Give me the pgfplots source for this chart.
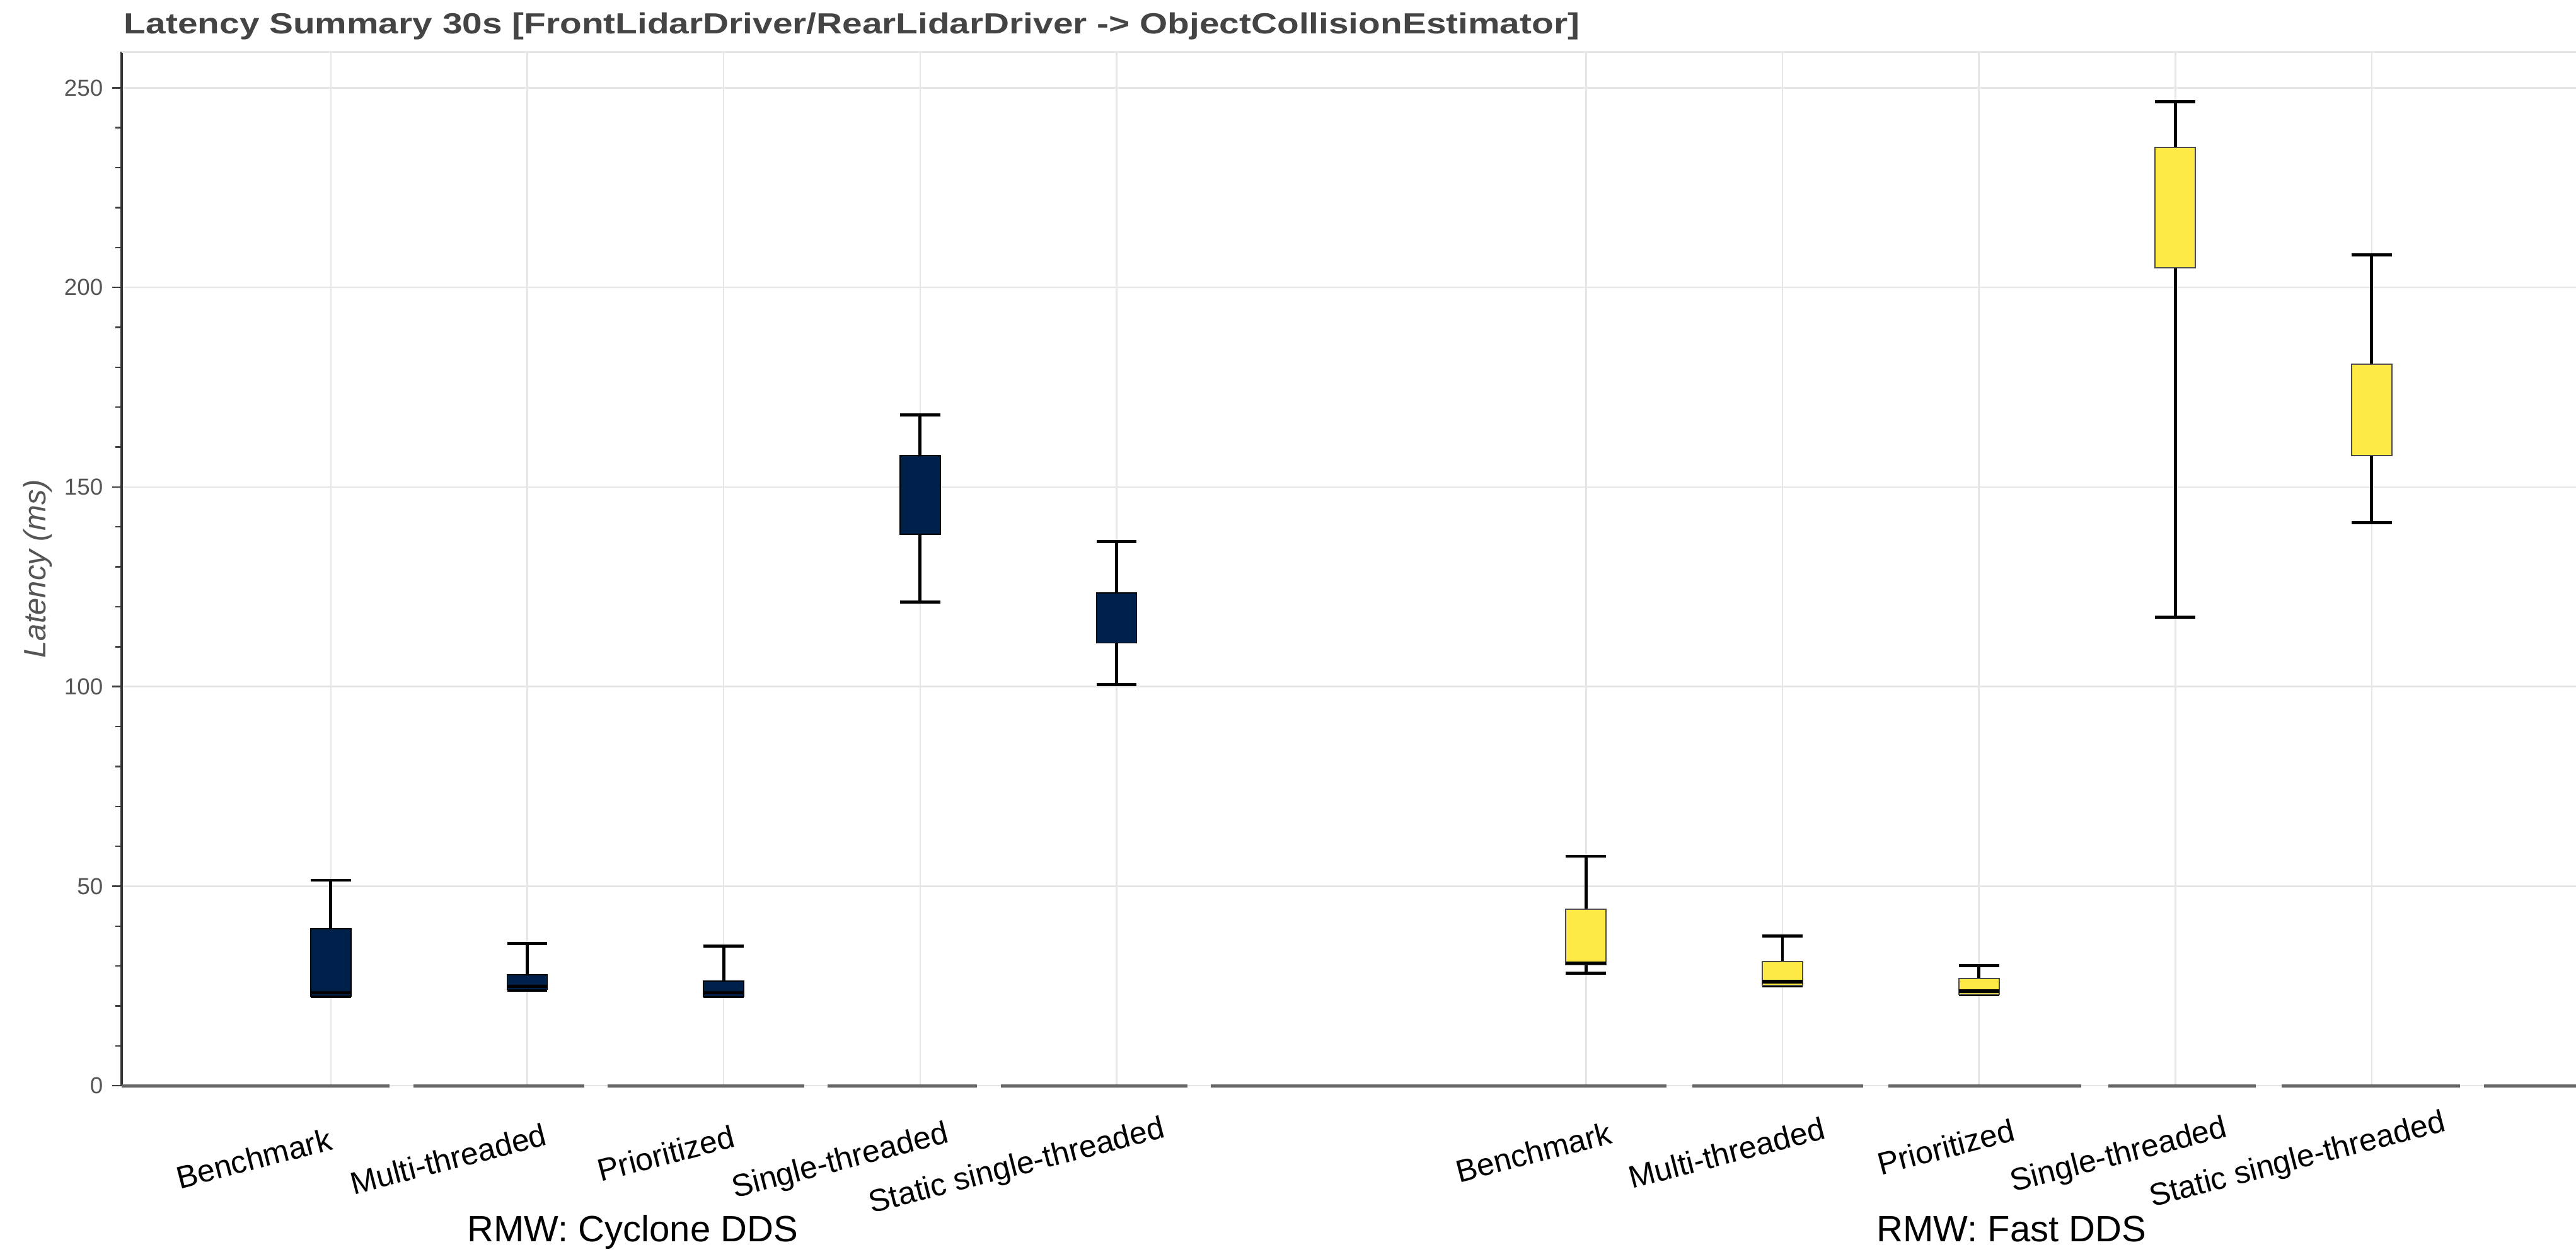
\documentclass[border=0pt]{standalone}
\usepackage{fontspec}
\setmainfont{Liberation Sans}
\newfontfamily\titlefont[FakeStretch=1.23]{Liberation Sans}
\usepackage{pgfplots}
\pgfplotsset{compat=1.18}
\usepgfplotslibrary{statistics}
\definecolor{navy}{HTML}{00204C}
\definecolor{cyel}{HTML}{FFE945}
\definecolor{gridc}{HTML}{E6E6E6}
\definecolor{tickc}{HTML}{555555}
\definecolor{titlec}{HTML}{444444}
\definecolor{axisc}{HTML}{666666}
\pgfkeys{
  /pgfplots/boxplot/cyc/.style={/pgfplots/boxplot/box extend=0.205, /pgfplots/boxplot/whisker extend=0.205,
    /pgfplots/boxplot/every box/.style={draw=black, line width=0.4pt, fill=navy},
    /pgfplots/boxplot/every whisker/.style={black, line width=1.2pt},
    /pgfplots/boxplot/every median/.style={black, line width=1.3pt}},
  /pgfplots/boxplot/fst/.style={/pgfplots/boxplot/box extend=0.205, /pgfplots/boxplot/whisker extend=0.205,
    /pgfplots/boxplot/every box/.style={draw=black!70, line width=0.5pt, fill=cyel},
    /pgfplots/boxplot/every whisker/.style={black, line width=1.2pt},
    /pgfplots/boxplot/every median/.style={black, line width=1.3pt}},
  /pgfplots/boxplot/nomed/.style={/pgfplots/boxplot/every median/.style={draw=none}},
}
\begin{document}
\begin{tikzpicture}
\useasboundingbox (0,0) rectangle (1000pt,486pt);
\node[anchor=base west, font=\titlefont\bfseries\fontsize{11.3}{13}\selectfont, text=titlec, inner sep=0pt] at (48pt,473pt) {Latency Summary 30s [FrontLidarDriver/RearLidarDriver -> ObjectCollisionEstimator]};
\begin{axis}[
  boxplot/draw direction=y,
  at={(47.2pt,64.35pt)}, anchor=south west,
  scale only axis, width=952.8pt, height=401.5pt,
  xmin=-1.065, xmax=11.43, ymin=0, ymax=259.0,
  axis x line=bottom, axis y line=left,
  x axis line style={draw=none},
  y axis line style={-, draw=black!80, line width=0.9pt},
  clip=false,
  ytick={0,50,100,150,200,250},
  minor y tick num=4,
  tick align=outside, major tick length=3.7pt, minor tick length=2.4pt,
  ytick style={black!75, line width=0.6pt},
  xtick={0,1,2,3,4,6.39,7.39,8.39,9.39,10.39},
  xticklabels={Benchmark\hspace*{4pt}, Multi-threaded\hspace*{-3.3pt}, Prioritized, Single-threaded\hspace*{-6.8pt}, Static single-threaded\hspace*{-14.9pt}, Benchmark\hspace*{-5.8pt}, Multi-threaded\hspace*{-12.6pt}, Prioritized\hspace*{-9.9pt}, Single-threaded\hspace*{-16.2pt}, Static single-threaded\hspace*{-25pt}},
  xtick style={draw=none},
  xmajorgrids, ymajorgrids,
  grid style={gridc, line width=0.6pt},
  y tick label style={font=\fontsize{9}{10}\selectfont, text=tickc},
  /pgf/number format/assume math mode=true,
  x tick label style={font=\fontsize{12.2}{14}\selectfont, rotate=14.5, anchor=north east, inner sep=0pt, yshift=-11.5pt},
  ylabel={\itshape Latency (ms)},
  ylabel style={font=\fontsize{12}{14}\selectfont, text=tickc, at={(axis description cs:-0.0343,0.5)}, anchor=center},
]
% Cyclone DDS
\addplot[boxplot prepared={draw position=0, lower whisker=22.3, lower quartile=22.5, median=23.3, upper quartile=39.3, upper whisker=51.5, cyc}] coordinates {};
\addplot[boxplot prepared={draw position=1, lower whisker=24.0, lower quartile=24.1, median=24.9, upper quartile=27.8, upper whisker=35.7, cyc}] coordinates {};
\addplot[boxplot prepared={draw position=2, lower whisker=22.3, lower quartile=22.4, median=23.3, upper quartile=26.2, upper whisker=35.0, cyc}] coordinates {};
\addplot[boxplot prepared={draw position=3, lower whisker=121.2, lower quartile=138.1, median=148.0, upper quartile=157.9, upper whisker=168.1, cyc, nomed}] coordinates {};
\addplot[boxplot prepared={draw position=4, lower whisker=100.5, lower quartile=110.9, median=117.0, upper quartile=123.5, upper whisker=136.4, cyc, nomed}] coordinates {};
% Fast DDS
\addplot[boxplot prepared={draw position=6.39, lower whisker=28.2, lower quartile=30.4, median=30.7, upper quartile=44.2, upper whisker=57.5, fst}] coordinates {};
\addplot[boxplot prepared={draw position=7.39, lower whisker=25.1, lower quartile=25.2, median=26.1, upper quartile=31.1, upper whisker=37.5, fst}] coordinates {};
\addplot[boxplot prepared={draw position=8.39, lower whisker=22.9, lower quartile=23.0, median=23.7, upper quartile=26.9, upper whisker=30.1, fst}] coordinates {};
\addplot[boxplot prepared={draw position=9.39, lower whisker=117.4, lower quartile=204.9, median=220.0, upper quartile=235.0, upper whisker=246.5, fst, nomed}] coordinates {};
\addplot[boxplot prepared={draw position=10.39, lower whisker=141.1, lower quartile=157.9, median=169.0, upper quartile=180.8, upper whisker=208.1, fst, nomed}] coordinates {};
% broken bottom axis line
\draw[axisc, line width=1.1pt] (axis cs:-1.065,0) -- (axis cs:0.30,0);
\draw[axisc, line width=1.1pt] (axis cs:0.42,0) -- (axis cs:1.29,0);
\draw[axisc, line width=1.1pt] (axis cs:1.41,0) -- (axis cs:2.41,0);
\draw[axisc, line width=1.1pt] (axis cs:2.53,0) -- (axis cs:3.29,0);
\draw[axisc, line width=1.1pt] (axis cs:3.41,0) -- (axis cs:4.36,0);
\draw[axisc, line width=1.1pt] (axis cs:4.48,0) -- (axis cs:6.80,0);
\draw[axisc, line width=1.1pt] (axis cs:6.93,0) -- (axis cs:7.80,0);
\draw[axisc, line width=1.1pt] (axis cs:7.93,0) -- (axis cs:8.91,0);
\draw[axisc, line width=1.1pt] (axis cs:9.05,0) -- (axis cs:9.80,0);
\draw[axisc, line width=1.1pt] (axis cs:9.93,0) -- (axis cs:10.84,0);
\draw[axisc, line width=1.1pt] (axis cs:10.96,0) -- (axis cs:11.43,0);
\draw[gridc, line width=0.8pt] (rel axis cs:0,1) -- (rel axis cs:1,1);
\node[anchor=base, font=\fontsize{14.2}{16}\selectfont, inner sep=0pt, yshift=-60.4pt] at (axis cs:1.537,0) {RMW: Cyclone DDS};
\node[anchor=base, font=\fontsize{14.2}{16}\selectfont, inner sep=0pt, yshift=-60.4pt] at (axis cs:8.556,0) {RMW: Fast DDS};
\end{axis}
\end{tikzpicture}
\end{document}
